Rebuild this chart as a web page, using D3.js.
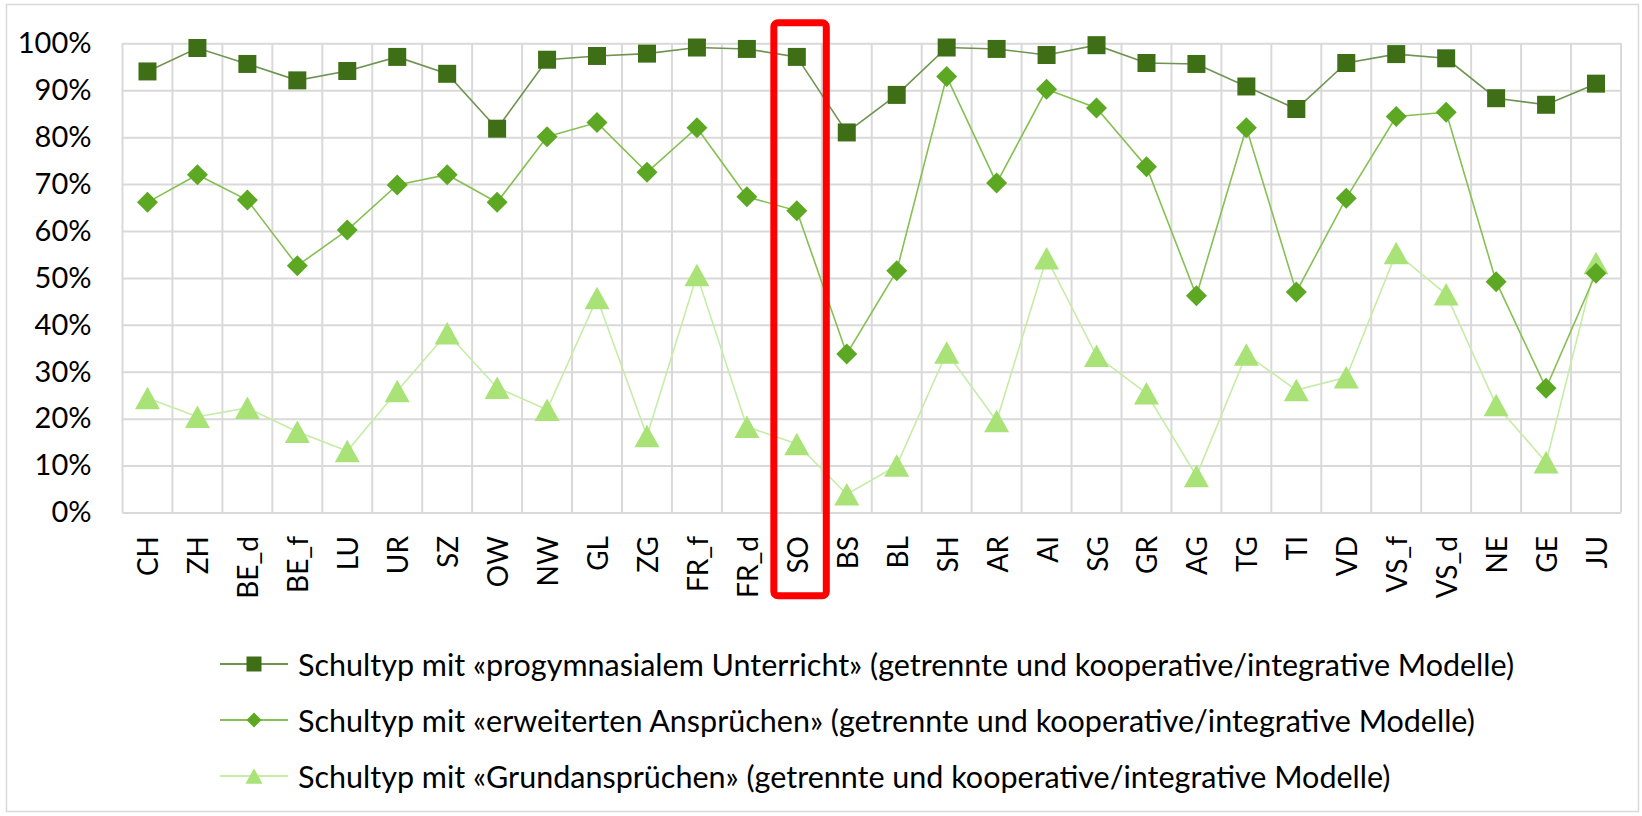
<html>
<head>
<meta charset='UTF-8'>
<title>Schultyp nach Kanton</title>
<script src='https://d3js.org/d3.v7.min.js'></script>
<style>
    body { margin: 0; background: #fff; }
    svg text { font-family: Lato, 'Open Sans', sans-serif; fill: #000; }
</style>
</head>
<body>
<svg id='chart' width='1642' height='816'></svg>

<script type='text/javascript'>
    // Kantone
    var cantons = ['CH', 'ZH', 'BE_d', 'BE_f', 'LU', 'UR', 'SZ', 'OW', 'NW', 'GL', 'ZG', 'FR_f', 'FR_d', 'SO',
                   'BS', 'BL', 'SH', 'AR', 'AI', 'SG', 'GR', 'AG', 'TG', 'TI', 'VD', 'VS_f', 'VS_d', 'NE', 'GE', 'JU'];

    // Anteile in %
    var progym    = [94.0, 99.0, 95.6, 92.1, 94.1, 97.1, 93.5, 81.8, 96.5, 97.3, 97.8, 99.1, 98.8, 97.1,
                     81.0, 89.0, 99.1, 98.8, 97.5, 99.6, 95.8, 95.6, 90.8, 86.0, 95.8, 97.7, 96.8, 88.3, 86.9, 91.4];
    var erweitert = [66.1, 72.0, 66.6, 52.6, 60.2, 69.8, 72.0, 66.1, 80.1, 83.1, 72.5, 82.0, 67.3, 64.3,
                     33.8, 51.5, 92.9, 70.2, 90.2, 86.2, 73.7, 46.2, 82.0, 47.0, 67.0, 84.4, 85.3, 49.2, 26.5, 51.0];
    var grund     = [24.4, 20.4, 22.3, 17.2, 13.1, 25.9, 38.2, 26.6, 21.9, 45.7, 16.3, 50.6, 18.3, 14.6,
                      3.9, 10.0, 34.1, 19.5, 54.2, 33.4, 25.4,  7.8, 33.7, 26.1, 28.8, 55.3, 46.5, 22.9, 10.7, 53.2];

    var yTicks = [0, 10, 20, 30, 40, 50, 60, 70, 80, 90, 100];
    var highlight = 'SO';

    var seriesNames = [
        'Schultyp mit «progymnasialem Unterricht» (getrennte und kooperative/integrative Modelle)',
        'Schultyp mit «erweiterten Ansprüchen» (getrennte und kooperative/integrative Modelle)',
        'Schultyp mit «Grundansprüchen» (getrennte und kooperative/integrative Modelle)'
    ];

    var series = [
        { name: seriesNames[0], values: progym,    marker: '#3e6f17', line: '#6e9450', shape: 'square' },
        { name: seriesNames[1], values: erweitert, marker: '#5ca822', line: '#86c052', shape: 'diamond' },
        { name: seriesNames[2], values: grund,     marker: '#a9e277', line: '#c6eca6', shape: 'triangle' }
    ];

    var margin = {top: 43.3, left: 122.5, right: 21, bottom: 303.5},
        width = 1642 - margin.left - margin.right,
        height = 816 - margin.top - margin.bottom;

    var svg = d3.select('#chart');

    // Rahmen
    svg.append('rect')
       .attr('x', 6.5).attr('y', 4.5)
       .attr('width', 1632).attr('height', 807)
       .attr('fill', 'none')
       .attr('stroke', '#d9d9d9')
       .attr('stroke-width', 1.5);

    var g = svg.append('g')
               .attr('transform', 'translate(' + margin.left + ',' + margin.top + ')');

    var x = d3.scaleBand().domain(cantons).range([0, width]).padding(0),
        y = d3.scaleLinear().domain([0, 100]).range([height, 0]);

    function cx(d, i) { return x(cantons[i]) + x.bandwidth() / 2; }

    // horizontale Gitterlinien + Beschriftung
    var yAxis = g.append('g')
                 .call(d3.axisLeft(y)
                         .tickValues(yTicks)
                         .tickSize(-width)
                         .tickPadding(31)
                         .tickFormat(function(d) { return d + '%'; }));
    yAxis.select('.domain').remove();
    yAxis.selectAll('line').attr('stroke', '#d9d9d9').attr('stroke-width', 2);
    yAxis.selectAll('text').style('font-size', '29px');

    // vertikale Gitterlinien
    var xEdges = cantons.map(function(c) { return x(c); }).concat([width]);
    g.append('g')
     .selectAll('line')
     .data(xEdges)
     .enter().append('line')
       .attr('x1', function(d) { return d; })
       .attr('x2', function(d) { return d; })
       .attr('y1', 0)
       .attr('y2', height)
       .attr('stroke', '#d9d9d9')
       .attr('stroke-width', 2);

    // Kantonsbeschriftung
    var xAxis = g.append('g')
                 .attr('transform', 'translate(0,' + height + ')')
                 .call(d3.axisBottom(x).tickSize(0));
    xAxis.select('.domain').remove();
    xAxis.selectAll('text')
         .style('font-size', '28px')
         .style('text-anchor', 'end')
         .attr('dominant-baseline', 'central')
         .attr('x', -23.5)
         .attr('y', 0)
         .attr('dy', null)
         .attr('transform', 'rotate(-90)');

    function markerPath(shape, s) {
        if (shape === 'square') {
            return d3.symbol().type(d3.symbolSquare).size(s * s)();
        }
        if (shape === 'diamond') {
            var r = s / 2;
            return 'M0,' + (-r) + 'L' + r + ',0L0,' + r + 'L' + (-r) + ',0Z';
        }
        var w = s, h = s * 0.9;
        return 'M0,' + (-h / 2) + 'L' + (w / 2) + ',' + (h / 2) + 'L' + (-w / 2) + ',' + (h / 2) + 'Z';
    }
    var markerSize = {square: 18, diamond: 21, triangle: 25};

    var line = d3.line()
                 .x(cx)
                 .y(function(d) { return y(d); });

    // Reihenfolge: Grundansprüche unten, progymnasial oben
    series.slice().reverse().forEach(function(s) {
        var sg = g.append('g');
        sg.append('path')
          .datum(s.values)
          .attr('d', line)
          .attr('fill', 'none')
          .attr('stroke', s.line)
          .attr('stroke-width', 1.6);
        sg.selectAll('path.marker')
          .data(s.values)
          .enter().append('path')
            .attr('class', 'marker')
            .attr('d', markerPath(s.shape, markerSize[s.shape]))
            .attr('transform', function(d, i) { return 'translate(' + cx(d, i) + ',' + y(d) + ')'; })
            .attr('fill', s.marker);
    });

    // rote Markierung
    g.append('rect')
     .attr('x', x(highlight) + 2)
     .attr('y', -20.5)
     .attr('width', x.bandwidth() + 2.5)
     .attr('height', 573)
     .attr('rx', 4)
     .attr('fill', 'none')
     .attr('stroke', '#ff0000')
     .attr('stroke-width', 7);

    // Legende
    var legend = svg.append('g')
                    .selectAll('g')
                    .data(series)
                    .enter().append('g')
                    .attr('transform', function(d, i) { return 'translate(220,' + (664 + i * 56) + ')'; });

    legend.append('line')
          .attr('x1', 0).attr('x2', 68)
          .attr('stroke', function(d) { return d.line; })
          .attr('stroke-width', 1.8);

    legend.append('path')
          .attr('transform', 'translate(34,0)')
          .attr('d', function(d) { return markerPath(d.shape, {square: 15, diamond: 15, triangle: 17}[d.shape]); })
          .attr('fill', function(d) { return d.marker; });

    legend.append('text')
          .attr('x', 78)
          .attr('dominant-baseline', 'central')
          .style('font-size', '30.5px')
          .text(function(d) { return d.name; });
</script>
</body>
</html>
